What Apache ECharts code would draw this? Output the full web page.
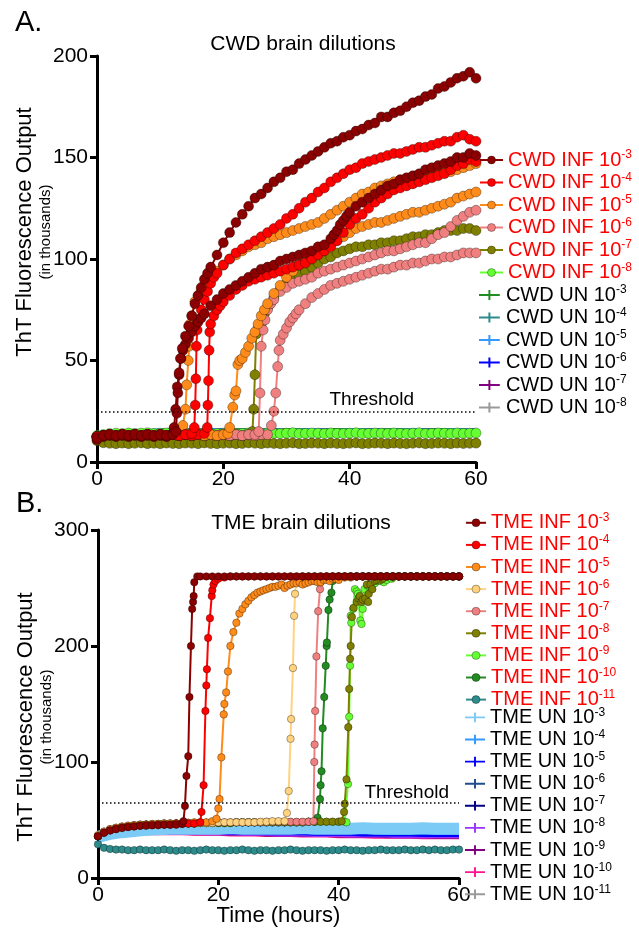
<!DOCTYPE html>
<html><head><meta charset="utf-8">
<script src="https://cdn.jsdelivr.net/npm/echarts@6/dist/echarts.min.js"></script>
<style>html,body{margin:0;padding:0;background:#fff}#c{width:639px;height:928px}</style>
</head><body><div id="c"></div>
<script>
// ---------- time grids ----------
const hours = [0,1,2,3,4,5,6,7,8,9,10,11,12,13,14,15,16,17,18,19,20,21,22,23,24,25,26,27,28,29,30,31,32,33,34,35,36,37,38,39,40,41,42,43,44,45,46,47,48,49,50,51,52,53,54,55,56,57,58,59,60];
const hours2 = [0,2,4,6,8,10,12,14,16,18,20,22,24,26,28,30,32,34,36,38,40,42,44,46,48,50,52,54,56,58,60];

// ---------- Panel A: CWD ----------
const cwdThreshold = 25;
const cwdInfNames = ['CWD INF 10-3','CWD INF 10-4','CWD INF 10-5','CWD INF 10-6','CWD INF 10-7','CWD INF 10-8'];
const cwdUnNames = ['CWD UN 10-3','CWD UN 10-4','CWD UN 10-5','CWD UN 10-6','CWD UN 10-7','CWD UN 10-8'];

const cwdInf3a = [12,13,13.5,13,13.5,13,13.5,13,13.5,13,13.5,13,13.5,
  44,62,72,82,90,96,102,108,113,118,122,126,130,132,135,138,140,143,144,147,149,151,153,155,157,158,160,161,163,164,166,167,170,170,172,173,175,177,178,180,181,184,185,187,189,190,192,189];
const cwdInf3aRise = [[12.5,15],[12.65,24],[12.8,34],[13.2,51],[13.5,56],[14.5,67],[15.5,78],[16.5,86],[17.5,93]];
const cwdInf3b = [11,12.5,13,12.5,13,12.5,13,12.5,13,12.5,13,12.5,14,
  43,58,64,69,73,77,80,83,85,87,89,91,93,95,96,97,99,100,101,102,103,104,106,107,110,114,119,123,126,128,130,132,134,136,137,139,140,141,142,144,145,146,147,148,150,150,152,151];
const cwdInf3bRise = [[12.2,17],[12.45,26],[12.7,37],[13.3,51],[13.6,55],[14.5,61],[15.5,67],[16.5,71],[37.5,112],[38.5,117],[39.5,121]];
const cwdInf4a = [12.5,13,13.5,13,13.5,13,13.5,13,13.5,13,13.5,13,13.5,13,13.5,14,
  70,80,88,93,97,100,103,105,107,109,111,113,115,117,120,122,125,128,130,133,135,138,140,142,144,145,147,148,149,150,151,152,152,153,154,155,155,156,157,158,158,160,161,159,158];
const cwdInf4aRise = [[15.4,17],[15.55,28],[15.65,41],[15.75,57],[15.85,65],[16.5,75],[17.5,84],[18.5,91]];
const cwdInf4b = [12.5,13,13.5,13,13.5,13,13.5,13,13.5,13,13.5,13,13.5,13,13.5,13,13.5,14,
  68,75,79,82,85,87,89,90,91,92,93,94,95,96,97,98,100,102,104,106,109,113,117,120,122,125,128,130,132,134,135,136,137,138,139,140,141,142,144,146,147,149,148];
const cwdInf4bRise = [[17.45,17],[17.55,28],[17.65,40],[17.75,55],[17.85,64],[18.5,72],[19.5,77]];
const cwdInf5a = [12.5,13,13.5,13,13.5,13,13.5,13,13.5,13,13.5,13,13.5,13.5,
  26,72,82,87,91,94,97,100,102,104,106,107,108,110,111,112,113,114,115,116,117,118,120,122,124,126,128,130,132,133,135,136,137,138,139,139,140,141,141,142,142,143,143,144,145,146,147];
const cwdInf5aRise = [[13.6,18],[14.2,38],[14.45,50],[14.6,57],[14.75,68],[15.5,79],[16.5,85]];
const cwdInf5b = [12.5,13,13.5,13,13.5,13,13.5,13,13.5,13,13.5,13,13.5,13,13.5,13,13.5,13,13.5,13,13.5,
  17,35,51,57,64,72,78,83,87,91,94,97,99,101,103,105,107,109,111,113,115,116,117,118,118,119,120,121,122,123,123,124,125,126,127,128,130,131,132,133];
const cwdInf5bRise = [[20.7,14],[21.5,27],[21.8,33],[22.3,48],[22.6,50],[23.5,54],[24.5,61],[25.5,68],[26.5,75]];
const cwdInf6a = [12.5,13,13.5,13,13.5,13,13.5,13,13.5,13,13.5,13,13.5,13,13.5,13,13.5,13,13.5,13,13.5,13,13.5,13,13.5,13.5,
  57,75,80,84,86,88,89,90,91,93,94,95,96,97,98,99,100,101,102,103,104,104,105,106,107,108,108,110,112,113,116,119,121,123,124];
const cwdInf6aRise = [[25.6,15],[25.8,34],[26.3,65],[26.6,70],[27.5,78]];
const cwdInf6b = [12.5,13,13.5,13,13.5,13,13.5,13,13.5,13,13.5,13,13.5,13,13.5,13,13.5,13,13.5,13,13.5,13,13.5,13,13.5,13,13.5,13.5,
  25,60,66,71,75,78,81,83,85,87,88,89,90,91,92,93,94,95,95,96,97,97,98,98,99,100,100,101,101,102,103,103,103];
const cwdInf6bRise = [[27.6,18],[28.3,34],[28.6,47],[28.8,55],[29.5,63],[30.5,69],[31.5,73]];
const cwdInf7a = [12.5,13,13.5,13,13.5,13,13.5,13,13.5,13,13.5,13,13.5,13,13.5,13,13.5,13,13.5,13,13.5,13,13.5,13,13.5,
  43,68,76,81,85,88,90,92,94,96,98,100,101,103,104,105,106,106,107,107,108,108,109,109,110,111,111,112,112,113,114,114,114,115,115,114];
const cwdInf7aRise = [[24.6,15],[24.8,26],[25.2,63],[25.5,66],[26.5,73]];
const cwdInf7b = [10.5,9.5,9.2,9,9.3,9,9.2,9.4,9,9.2,9,9.3,9.1,9,9.3,9.2,9,9.4,9.1,9,9.2,9.3,9,9.1,9.4,9.2,9,9.3,9.1,9,9.2,9.4,9,9.1,9.3,9.2,9,9.3,9.1,9,9.2,9.4,9,9.1,9.3,9.2,9,9.3,9.1,9,9.2,9.4,9,9.1,9.3,9.2,9,9.3,9.1,9.2,9.3];
const cwdInf8 = [13,13.5,14,14.2,14,14.3,14,14.2,14.4,14,14.2,14.3,14,14.1,14.4,14.2,14,14.3,14.1,14,14.2,14.4,14,14.1,14.3,14.2,14,14.3,14.1,14,14.2,14.4,14,14.1,14.3,14.2,14,14.3,14.1,14,14.2,14.4,14,14.1,14.3,14.2,14,14.3,14.1,14,14.2,14.4,14,14.1,14.3,14.2,14,14.3,14.1,14.2,14.3];

const cwdUn3 = [14.5,15,15.5,15.5,15.8,15.5,15.8,16,15.8,15.5,15.8,16,15.8,15.6,15.8,16,15.8,15.6,15.8,16,15.8,15.6,15.8,16,15.8,15.6,15.8,16,15.8,15.6,15.8];
const cwdUn4 = [14.8,15.2,15.6,15.8,15.6,16,15.8,15.6,16,15.8,15.6,16,15.8,16,15.6,15.8,16,15.8,15.6,16,15.8,16,15.6,15.8,16,15.8,15.6,16,15.8,16,15.8];
const cwdUn5 = [14.6,15.1,15.4,15.6,15.7,15.9,15.7,15.9,16.1,15.9,15.7,15.9,16.1,15.9,15.7,15.9,16.1,15.9,15.7,15.9,16.1,15.9,15.7,15.9,16.1,15.9,15.7,15.9,16.1,15.9,15.7];
const cwdUn6 = [14.4,15,15.3,15.5,15.7,15.8,16,15.8,15.7,15.9,16,15.8,15.7,15.9,16,15.8,15.7,15.9,16,15.8,15.7,15.9,16,15.8,15.7,15.9,16,15.8,15.7,15.9,16];
const cwdUn7 = [14.3,14.9,15.2,15.4,15.5,15.6,15.5,15.7,15.6,15.5,15.7,15.6,15.5,15.7,15.6,15.5,15.7,15.6,15.5,15.7,15.6,15.5,15.7,15.6,15.5,15.7,15.6,15.5,15.7,15.6,15.5];
const cwdUn8 = [14.2,14.8,15.1,15.3,15.4,15.5,15.4,15.6,15.5,15.4,15.6,15.5,15.4,15.6,15.5,15.4,15.6,15.5,15.4,15.6,15.5,15.4,15.6,15.5,15.4,15.6,15.5,15.4,15.6,15.5,15.4];

// ---------- Panel B: TME ----------
const tmeThreshold = 65;
const tmeInfNames = ['TME INF 10-3','TME INF 10-4','TME INF 10-5','TME INF 10-6','TME INF 10-7','TME INF 10-8','TME INF 10-9','TME INF 10-10','TME INF 10-11'];
const tmeUnNames = ['TME UN 10-3','TME UN 10-4','TME UN 10-5','TME UN 10-6','TME UN 10-7','TME UN 10-8','TME UN 10-9','TME UN 10-10','TME UN 10-11'];

const tmeInf3 = [36,39,41,42,43,44,44.5,45,45,45.5,45.5,46,46,46,47,105,255,
  260,260,260,260,260,260,260,260,260,260,260,260,260,260,260,260,260,260,260,260,260,260,260,260,260,260,260,260,260,260,260,260,260,260,260,260,260,260,260,260,260,260,260,260];
const tmeInf3Rise = [[14.2,49],[14.45,62],[14.7,88],[15.2,156],[15.45,200],[15.65,232],[15.8,238],[15.9,243],[16.5,260]];
const tmeInf4 = [36,39,41,42.5,43.5,44,44.5,45,45.5,45.5,46,46,46,46.5,46.5,47,47,48,166,248,258,259,
  260,260,260,260,260,260,260,260,260,260,260,260,260,260,260,260,260,260,260,260,260,260,260,260,260,260,260,260,260,260,260,260,260,260,260,260,260,260,260];
const tmeInf4Rise = [[17.2,57],[17.55,80],[17.85,144],[18.1,180],[18.3,207],[18.6,224],[18.9,243],[19.2,253],[19.5,256]];
const tmeInf5 = [36,39.5,42,43,44,45,45.5,46,46,46.5,46.5,47,47,47,47.5,47.5,48,48,48,49,
  60,150,200,220,232,239,244,247,249,251,252,250,253,254,253,255,256,255,257,258,257,259,259,
  260,260,260,260,260,260,260,260,260,260,260,260,260,260,260,260,260,260];
const tmeInf5Rise = [[19.7,51],[20.2,68],[20.5,104],[20.9,141],[21.3,160],[21.6,178],[22.5,212],[23.5,228],[24.5,236],[25.5,242],[26.5,246],[27.5,248],[28.5,250],[29.5,251],[30.5,253],[31.5,252],[32.5,254],[33.5,255],[34.5,254],[35.5,256],[36.5,255],[37.5,257],[38.5,256],[39.5,258]];
const tmeInf6 = [37,40,42,43.5,44.5,45,45.5,46,46,46.5,46.5,47,47,47,47,47.5,47.5,47.5,47.5,47.5,48,48,48,48,48,48,48,48.5,48.5,49,49,49,120,258,
  260,260,260,260,260,260,260,260,260,260,260,260,260,260,260,260,260,260,260,260,260,260,260,260,260,260,260];
const tmeInf6Rise = [[31.4,56],[31.7,75],[32.1,137],[32.4,181],[32.6,226],[32.75,245]];
const tmeInf7 = [36.5,40,42,43,44,45,45.5,46,46,46.5,46.5,47,47,47,47,47.5,47.5,47.5,47.5,47.5,48,48,48,48,48,48,48,48,48.5,48.5,48.5,48.5,48.5,48.5,48.5,48.5,115,255,
  260,260,260,260,260,260,260,260,260,260,260,260,260,260,260,260,260,260,260,260,260,260,260];
const tmeInf7Rise = [[35.8,49],[35.95,100],[36.1,144],[36.3,191],[36.6,230],[36.9,249]];
const tmeInf8 = [36,39.5,41.5,43,44,44.5,45,45.5,46,46,46.5,46.5,46.5,47,47,47,47,47.5,47.5,47.5,47.5,47.5,47.5,48,48,48,48,48,48,48,48,48,48,48,48,48.5,48.5,48.5,48.5,48.5,48.5,
  64,200,238,240,245,256,257,260,260,260,260,260,260,260,260,260,260,260,260,260];
const tmeInf8Rise = [[40.5,49],[40.9,57],[41.3,85],[41.6,130],[41.75,163],[41.9,189],[42.2,225],[42.5,233],[43.3,241],[43.5,243],[43.8,238],[44.4,241],[44.7,253],[44.9,238],[45.3,253],[45.6,249],[46.3,257],[47.3,258]];
const tmeInf9 = [36,39.5,41.5,43,44,44.5,45,45.5,46,46,46.5,46.5,46.5,47,47,47,47,47.5,47.5,47.5,47.5,47.5,47.5,48,48,48,48,48,48,48,48,48,48,48,48,48.5,48.5,48.5,48.5,48.5,48.5,48.5,
  226,247,232,252,254,256,257,259,260,260,260,260,260,260,260,260,260,260,260];
const tmeInf9Rise = [[41.3,48],[41.55,81],[41.75,139],[41.9,183],[42.1,220],[42.4,232],[42.7,249],[43.2,245],[43.6,222],[43.8,219],[44.3,249],[44.8,252],[45.5,251],[46.5,256],[47.5,255],[48.8,258]];
const tmeInf10 = [36,39.5,41.5,43,44,44.5,45,45.5,46,46,46.5,46.5,46.5,47,47,47,47,47.5,47.5,47.5,47.5,47.5,47.5,48,48,48,48,48,48,48,48,48,48,48,48,48.5,48.5,
  80,200,256,260,260,260,260,260,260,260,260,260,260,260,260,260,260,260,260,260,260,260,260,260];
const tmeInf10Rise = [[36.5,52],[36.9,68],[37.15,92],[37.35,129],[37.6,156],[37.85,183],[38.05,203],[38.3,231],[38.5,240],[38.8,246]];
const tmeInf11 = [29,26,25,24.5,24.5,24,24,24.5,24,24,24,24.5,24,23.5,24,24,23.5,24,24.5,24,24,23.5,24,24,24.5,24,23.5,24,24,23.5,24,24,24.5,24,23.5,24,24,24,23.5,24,24,24.5,24,24,23.5,24,24,24.5,24,24,24,24.5,24,24,24.5,24,24.5,24,24,24.5,24.5];

const tmeUn3 = [35.5,38,39.5,40.5,41.5,42,42.5,42.5,42.5,42.5,42.5,43,42.5,42.5,42.5,42.5,42.5,43,42.5,42.5,42.5,42.5,43,42.5,42.5,42.5,42.5,43,42.5,42.5,42.5];
const tmeUn4 = [34.5,37.5,39,40,40.5,41,41,41,41,41,41,41,41,41,40.5,40.5,40.5,40.5,40,40,40,40,40,40,39.5,39.5,39.5,39.5,39.5,39.5,39.5];
const tmeUn5 = [34,37,38.5,39.5,40,40,40,40,40,40,40,39.5,39.5,39.5,39,39,39,39,38.5,38.5,38.5,38.5,38,38,38,38,38,37.5,37.5,37.5,37.5];
const tmeUn6 = [34,37,38.5,39.5,40,40.5,40.5,40.5,40.5,40,40,40,40,40,39.5,39.5,39.5,39.5,39,39,39,39,39,39,38.5,38.5,38.5,38.5,38.5,38.5,38.5];
const tmeUn7 = [34.5,37.5,39,40,40.5,41,41,41,41,41,40.5,40.5,40.5,40.5,40,40,40,40,40,39.5,39.5,39.5,39.5,39.5,39,39,39,39,39,39,39];
const tmeUn8 = [33.5,36.5,38,39,39.5,39.5,39.5,39.5,39.5,39,39,39,38.5,38.5,38.5,38,38,38,37.5,37.5,37.5,37,37,37,37,36.5,36.5,36.5,36.5,36.5,36.5];
const tmeUn9 = [33.5,36.5,38,39,39.5,39.5,39.5,39.5,39,39,39,38.5,38.5,38.5,38,38,38,37.5,37.5,37.5,37,37,37,37,36.5,36.5,36.5,36.5,36,36,36];
const tmeUn10 = [33,36,37.5,38.5,39,39,39,39,38.5,38.5,38.5,38,38,38,37.5,37.5,37.5,37,37,37,36.5,36.5,36.5,36,36,36,36,35.5,35.5,35.5,35.5];
const tmeUn11 = [34,37,38.5,39.5,40,40,40,40,40,40,40,40,40,40,40,40,40,40,40,40,40,40,40,40,40,40,40,40,40,40,40];

// ---------- styling ----------
const FONT = 'Liberation Sans, Arial, sans-serif';
const plusIcon = 'path://M0,5H26V7.5H0Z M11.75,0H14.25V12.5H11.75Z';
const MARK_BORDER = 'rgba(0,0,0,0.55)';
function pts(grid, extra, tgrid) {
  const a = grid.map((v, i) => [tgrid[i], v]);
  (extra || []).forEach(p => a.push(p));
  a.sort((p, q) => p[0] - q[0]);
  return a;
}
function inf(name, color, data, ax, size) {
  return {type:'line', name, data, xAxisIndex:ax, yAxisIndex:ax, symbol:'circle', symbolSize:size,
    lineStyle:{color, width:2}, itemStyle:{color, borderColor:MARK_BORDER, borderWidth:0.6},
    emphasis:{disabled:true}, animation:false};
}
function un(name, color, data, ax, width) {
  return {type:'line', name, data, xAxisIndex:ax, yAxisIndex:ax, symbol:'none',
    lineStyle:{color, width}, itemStyle:{color}, emphasis:{disabled:true}, animation:false};
}
function thr(value, ax, pad, dist) {
  return {type:'line', data:[], xAxisIndex:ax, yAxisIndex:ax, silent:true, animation:false,
    markLine:{silent:true, symbol:['none','none'], animation:false, data:[{yAxis:value}],
      lineStyle:{color:'#000', width:1.5, type:[1.5,2.5]},
      label:{show:true, formatter:'Threshold', position:'insideEndTop', color:'#000', fontSize:19,
        fontFamily:FONT, distance:dist, padding:pad}}};
}
const supFmt = n => n.replace(/10(-\d+)$/, '10{s|$1}');
function legend(names, colors, left, top, iw, lh, color, isUn) {
  return {orient:'vertical', left, top, padding:0, itemGap:0.5, itemWidth:iw, itemHeight:10,
    selectedMode:false, formatter:supFmt,
    textStyle:{fontSize:20, color, lineHeight:lh, fontFamily:FONT,
      rich:{s:{fontSize:12, color, verticalAlign:'top', lineHeight:12, fontFamily:FONT}}},
    data: names.map((n, i) => isUn ? {name:n, icon:plusIcon, itemStyle:{color:colors[i]}}
      : {name:n, itemStyle:{color:colors[i], borderColor:MARK_BORDER, borderWidth:0.6}})};
}
function yAx(gi, max, interval, pad) {
  return {type:'value', gridIndex:gi, min:0, max, interval,
    name:'{a|ThT Fluorescence Output}\n{b|(in thousands)}', nameLocation:'middle', nameRotate:90, nameGap:43,
    nameMoveOverlap:false,
    nameTextStyle:{color:'#000', padding:pad, rich:{a:{fontSize:22, lineHeight:25, color:'#000', fontFamily:FONT}, b:{fontSize:15, lineHeight:17, color:'#000', fontFamily:FONT}}},
    axisLine:{show:true, lineStyle:{color:'#000', width:3}},
    axisTick:{show:true, length:7, lineStyle:{color:'#000', width:3}},
    axisLabel:{color:'#000', fontSize:21, margin:9, fontFamily:FONT},
    splitLine:{show:false}};
}
function xAx(gi, name) {
  return {type:'value', gridIndex:gi, min:0, max:60, interval:20,
    name, nameLocation:'middle', nameGap:27, nameMoveOverlap:false, nameTextStyle:{color:'#000', fontSize:22, fontFamily:FONT},
    axisLine:{show:true, lineStyle:{color:'#000', width:3}},
    axisTick:{show:true, length:7, lineStyle:{color:'#000', width:3}},
    axisLabel:{color:'#000', fontSize:21, margin:7, fontFamily:FONT},
    splitLine:{show:false}};
}

const C = {dred:'#8B0000', red:'#FF0000', orange:'#FF8C1A', peach:'#FFD27F', pink:'#F08080', olive:'#808000', lime:'#66FF33', dgreen:'#228B22', teal:'#2E8B8B'};
const cwdInfColors = [C.dred, C.red, C.orange, C.pink, C.olive, C.lime];
const cwdUnColors = ['#228B22', '#2E8B8B', '#3399FF', '#0000FF', '#800080', '#999999'];
const tmeInfColors = [C.dred, C.red, C.orange, C.peach, C.pink, C.olive, C.lime, C.dgreen, C.teal];
const tmeUnColors = ['#7CCBF7', '#3399FF', '#0000FF', '#1F4E8C', '#000080', '#9933FF', '#800080', '#FF1493', '#999999'];
const S = 10, S2 = 7.5;

const series = [
  thr(cwdThreshold, 0, [0,60,0,0], 2),
  // CWD UN (drawn first, underneath)
  un(cwdUnNames[5], cwdUnColors[5], pts(cwdUn8, null, hours2), 0, 2.5),
  un(cwdUnNames[4], cwdUnColors[4], pts(cwdUn7, null, hours2), 0, 2.5),
  un(cwdUnNames[3], cwdUnColors[3], pts(cwdUn6, null, hours2), 0, 2.5),
  un(cwdUnNames[2], cwdUnColors[2], pts(cwdUn5, null, hours2), 0, 2.5),
  un(cwdUnNames[1], cwdUnColors[1], pts(cwdUn4, null, hours2), 0, 2.5),
  un(cwdUnNames[0], cwdUnColors[0], pts(cwdUn3, null, hours2), 0, 2.5),
  // CWD INF
  inf(cwdInfNames[5], C.lime, pts(cwdInf8, null, hours), 0, S),
  inf(cwdInfNames[4], C.olive, pts(cwdInf7b, null, hours), 0, S),
  inf(cwdInfNames[4], C.olive, pts(cwdInf7a, cwdInf7aRise, hours), 0, S),
  inf(cwdInfNames[3], C.pink, pts(cwdInf6b, cwdInf6bRise, hours), 0, S),
  inf(cwdInfNames[3], C.pink, pts(cwdInf6a, cwdInf6aRise, hours), 0, S),
  inf(cwdInfNames[2], C.orange, pts(cwdInf5b, cwdInf5bRise, hours), 0, S),
  inf(cwdInfNames[2], C.orange, pts(cwdInf5a, cwdInf5aRise, hours), 0, S),
  inf(cwdInfNames[1], C.red, pts(cwdInf4b, cwdInf4bRise, hours), 0, S),
  inf(cwdInfNames[1], C.red, pts(cwdInf4a, cwdInf4aRise, hours), 0, S),
  inf(cwdInfNames[0], C.dred, pts(cwdInf3b, cwdInf3bRise, hours), 0, S),
  inf(cwdInfNames[0], C.dred, pts(cwdInf3a, cwdInf3aRise, hours), 0, S),

  thr(tmeThreshold, 1, [0,10,0,0], 0),
  // TME UN
  un(tmeUnNames[8], tmeUnColors[8], pts(tmeUn11, null, hours2), 1, 5),
  un(tmeUnNames[7], tmeUnColors[7], pts(tmeUn10, null, hours2), 1, 5),
  un(tmeUnNames[6], tmeUnColors[6], pts(tmeUn9, null, hours2), 1, 5),
  un(tmeUnNames[5], tmeUnColors[5], pts(tmeUn8, null, hours2), 1, 5),
  un(tmeUnNames[4], tmeUnColors[4], pts(tmeUn7, null, hours2), 1, 5),
  un(tmeUnNames[3], tmeUnColors[3], pts(tmeUn6, null, hours2), 1, 5),
  un(tmeUnNames[2], tmeUnColors[2], pts(tmeUn5, null, hours2), 1, 5),
  un(tmeUnNames[1], tmeUnColors[1], pts(tmeUn4, null, hours2), 1, 5),
  un(tmeUnNames[0], tmeUnColors[0], pts(tmeUn3, null, hours2), 1, 12),
  // TME INF
  inf(tmeInfNames[8], C.teal, pts(tmeInf11, null, hours), 1, S2),
  inf(tmeInfNames[7], C.dgreen, pts(tmeInf10, tmeInf10Rise, hours), 1, S2),
  inf(tmeInfNames[6], C.lime, pts(tmeInf9, tmeInf9Rise, hours), 1, S2),
  inf(tmeInfNames[5], C.olive, pts(tmeInf8, tmeInf8Rise, hours), 1, S2),
  inf(tmeInfNames[4], C.pink, pts(tmeInf7, tmeInf7Rise, hours), 1, S2),
  inf(tmeInfNames[3], C.peach, pts(tmeInf6, tmeInf6Rise, hours), 1, S2),
  inf(tmeInfNames[2], C.orange, pts(tmeInf5, tmeInf5Rise, hours), 1, S2),
  inf(tmeInfNames[1], C.red, pts(tmeInf4, tmeInf4Rise, hours), 1, S2),
  inf(tmeInfNames[0], C.dred, pts(tmeInf3, tmeInf3Rise, hours), 1, S2)
];

const txt = (x, y, text, size, align) => ({type:'text', x, y, silent:true,
  style:{text, fontSize:size, fontFamily:FONT, fill:'#000', textAlign:align, align, textVerticalAlign:'middle', verticalAlign:'middle'}});

const option = {
  animation:false,
  backgroundColor:'#fff',
  textStyle:{fontFamily:FONT},
  grid:[
    {left:97, right:163, top:56, bottom:466},
    {left:98, right:180, top:530, bottom:48}
  ],
  xAxis:[xAx(0, ''), xAx(1, 'Time (hours)')],
  yAxis:[yAx(0, 200, 50, [0,0,0,54]), yAx(1, 300, 100, [0,26,0,0])],
  legend:[
    legend(cwdInfNames, cwdInfColors, 479, 149, 23, 22, '#FF0000', false),
    legend(cwdUnNames, cwdUnColors, 479, 284, 23, 22, '#000000', true),
    legend(tmeInfNames, tmeInfColors, 465, 512, 20, 21.6, '#FF0000', false),
    legend(tmeUnNames, tmeUnColors, 465, 706.6, 20, 21.6, '#000000', true)
  ],
  graphic:[
    txt(15, 22.5, 'A.', 29, 'left'),
    txt(16, 504, 'B.', 29, 'left'),
    txt(303, 44, 'CWD brain dilutions', 21, 'center'),
    txt(301, 523, 'TME brain dilutions', 21, 'center')
  ],
  series
};
echarts.init(document.getElementById('c'), null, {renderer:'canvas'}).setOption(option);
</script>
</body></html>
